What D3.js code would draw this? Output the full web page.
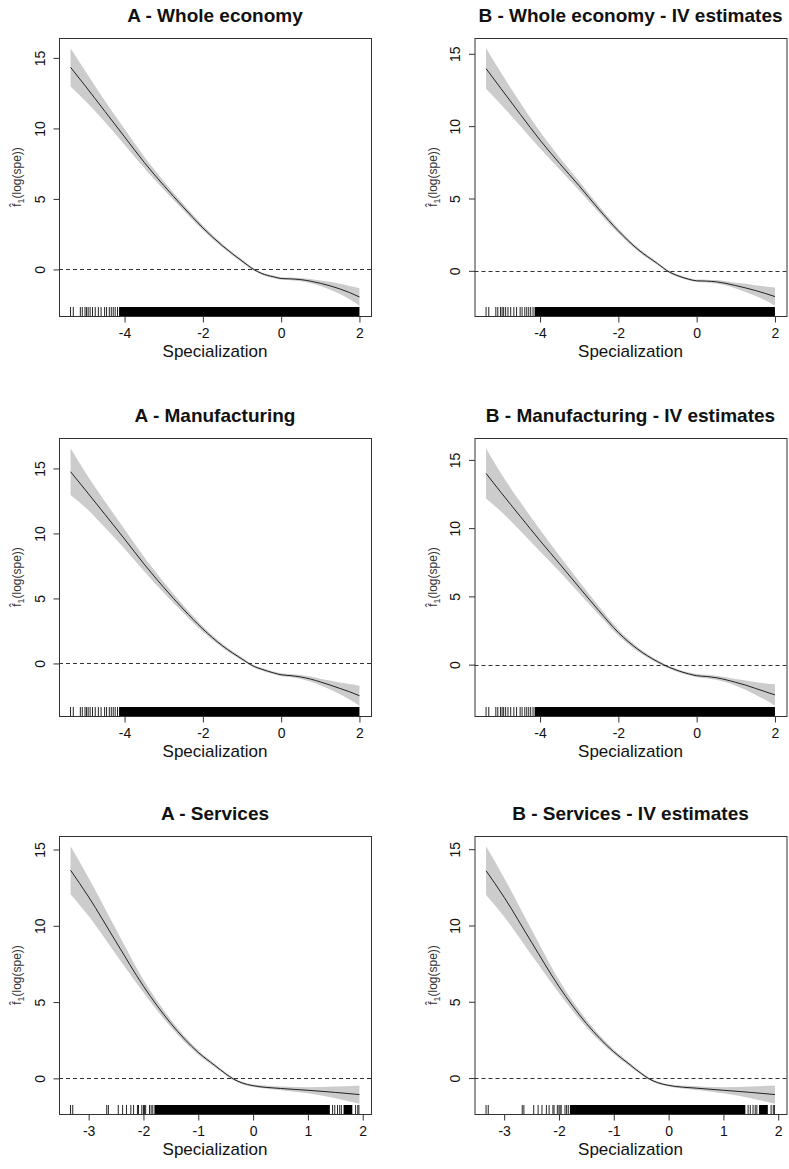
<!DOCTYPE html>
<html>
<head>
<meta charset="utf-8">
<script src="https://cdn.jsdelivr.net/npm/d3@7"></script>
<style>
  body { margin: 0; background: #fff; }
  svg text { font-family: "Liberation Sans", Arial, sans-serif; fill: #111; }
</style>
</head>
<body>
<div id="chart"></div>
<script>
// x grid of the smooth term (log specialization)
const xWhole = [-5.38, -5, -4.5, -4, -3.5, -3, -2.5, -2, -1.5, -1, -0.7, -0.5, -0.2, 0, 0.25, 0.5, 0.75, 1, 1.25, 1.5, 1.75, 2];
const xServ = [-3.33, -3, -2.5, -2, -1.5, -1, -0.7, -0.5, -0.36, -0.2, 0, 0.5, 1, 1.5, 1.94];

// fitted values and half-width of the confidence band
const fitWholeA = [14.33, 13.0, 11.2, 9.4, 7.6, 5.96, 4.42, 2.95, 1.68, 0.6, 0.0, -0.28, -0.52, -0.64, -0.67, -0.72, -0.83, -0.98, -1.16, -1.38, -1.64, -1.95];
const seWholeA  = [1.35, 1.05, 0.75, 0.55, 0.4, 0.3, 0.22, 0.17, 0.13, 0.1, 0.09, 0.09, 0.09, 0.09, 0.1, 0.12, 0.15, 0.2, 0.28, 0.36, 0.47, 0.62];
const fitWholeB = [13.98, 12.6, 10.8, 9.03, 7.42, 5.87, 4.26, 2.76, 1.48, 0.5, -0.08, -0.32, -0.58, -0.69, -0.71, -0.76, -0.87, -1.02, -1.18, -1.36, -1.56, -1.78];
const seWholeB  = [1.4, 1.1, 0.8, 0.58, 0.42, 0.32, 0.23, 0.17, 0.13, 0.1, 0.09, 0.09, 0.09, 0.09, 0.1, 0.12, 0.15, 0.2, 0.28, 0.37, 0.48, 0.63];
const fitManuA  = [14.75, 13.34, 11.46, 9.57, 7.64, 5.85, 4.18, 2.65, 1.36, 0.34, -0.22, -0.44, -0.72, -0.87, -0.94, -1.04, -1.2, -1.42, -1.66, -1.92, -2.18, -2.48];
const seManuA   = [1.8, 1.35, 1.0, 0.75, 0.55, 0.42, 0.3, 0.22, 0.16, 0.12, 0.1, 0.1, 0.1, 0.12, 0.13, 0.15, 0.19, 0.25, 0.34, 0.45, 0.6, 0.77];
const fitManuB  = [14.01, 12.62, 10.84, 9.08, 7.38, 5.66, 3.96, 2.35, 1.12, 0.22, -0.2, -0.42, -0.68, -0.81, -0.87, -0.96, -1.11, -1.3, -1.5, -1.74, -1.98, -2.22];
const seManuB   = [1.84, 1.4, 1.05, 0.8, 0.58, 0.43, 0.31, 0.22, 0.16, 0.12, 0.1, 0.1, 0.1, 0.12, 0.13, 0.15, 0.19, 0.25, 0.34, 0.46, 0.6, 0.79];
const fitServA  = [13.64, 11.89, 8.95, 6.04, 3.6, 1.7, 0.85, 0.3, -0.04, -0.3, -0.48, -0.66, -0.78, -0.92, -1.06];
const seServA   = [1.57, 1.25, 0.83, 0.42, 0.25, 0.15, 0.11, 0.09, 0.08, 0.08, 0.08, 0.12, 0.2, 0.38, 0.6];
const fitServB  = [13.59, 11.85, 8.9, 6.0, 3.58, 1.72, 0.86, 0.3, -0.04, -0.3, -0.48, -0.66, -0.8, -0.94, -1.08];
const seServB   = [1.6, 1.27, 0.84, 0.42, 0.25, 0.15, 0.11, 0.09, 0.08, 0.08, 0.08, 0.12, 0.2, 0.38, 0.6];

// rug: single observations and dense stretches
const rugWhole = [-5.38, -5.31, -5.13, -5.08, -5.01, -4.97, -4.93, -4.88, -4.82, -4.75, -4.67, -4.6, -4.51, -4.46, -4.39, -4.34, -4.29, -4.24, -4.18];
const denseWhole = [[-4.14, 2.0]];
const rugServ = [-3.33, -3.29, -2.67, -2.64, -2.46, -2.38, -2.31, -2.23, -2.18, -2.11, -2.09, -2.03, -2.0, -1.98, -1.96, -1.89, -1.86, -1.83, 1.45, 1.49, 1.54, 1.58, 1.61, 1.87, 1.91, 1.93];
const denseServ = [[-1.8, 1.4], [1.65, 1.81]];

// tick labels
const ticksWhole = [-4, -2, 0, 2];
const ticksServ = [-3, -2, -1, 0, 1, 2];
const ticksY = [0, 5, 10, 15];

const titles = ["A - Whole economy", "B - Whole economy - IV estimates",
                "A - Manufacturing", "B - Manufacturing - IV estimates",
                "A - Services", "B - Services - IV estimates"];

const panels = [
  {title: titles[0], col: 0, row: 0, x: xWhole, fit: fitWholeA, se: seWholeA, rug: rugWhole, dense: denseWhole, ticks: ticksWhole},
  {title: titles[1], col: 1, row: 0, x: xWhole, fit: fitWholeB, se: seWholeB, rug: rugWhole, dense: denseWhole, ticks: ticksWhole},
  {title: titles[2], col: 0, row: 1, x: xWhole, fit: fitManuA, se: seManuA, rug: rugWhole, dense: denseWhole, ticks: ticksWhole},
  {title: titles[3], col: 1, row: 1, x: xWhole, fit: fitManuB, se: seManuB, rug: rugWhole, dense: denseWhole, ticks: ticksWhole},
  {title: titles[4], col: 0, row: 2, x: xServ, fit: fitServA, se: seServA, rug: rugServ, dense: denseServ, ticks: ticksServ},
  {title: titles[5], col: 1, row: 2, x: xServ, fit: fitServB, se: seServB, rug: rugServ, dense: denseServ, ticks: ticksServ}
];

const width = 789, height = 1169;
const colLeft = [59, 474.5], rowTop = [38, 438, 836];
const boxW = 312, boxH = 278;

const svg = d3.select("#chart")
  .append("svg")
    .attr("width", width)
    .attr("height", height);

// R style 4% axis padding
function pad(ext) {
  const d = (ext[1] - ext[0]) * 0.04;
  return [ext[0] - d, ext[1] + d];
}

panels.forEach(p => {
  const g = svg.append("g")
    .attr("transform", `translate(${colLeft[p.col]},${rowTop[p.row]})`);

  const pts = p.x.map((v, i) => ({x: v, fit: p.fit[i], lo: p.fit[i] - p.se[i], hi: p.fit[i] + p.se[i]}));

  const x = d3.scaleLinear()
    .domain(pad(d3.extent(p.x.concat(p.rug))))
    .range([0, boxW]);
  const y = d3.scaleLinear()
    .domain(pad([d3.min(pts, d => d.lo), d3.max(pts, d => d.hi)]))
    .range([boxH, 0]);

  // confidence band
  g.append("path")
    .datum(pts)
    .attr("d", d3.area().x(d => x(d.x)).y0(d => y(d.lo)).y1(d => y(d.hi)).curve(d3.curveMonotoneX))
    .attr("fill", "#cccccc");

  // zero line
  g.append("line")
    .attr("x1", 0).attr("x2", boxW)
    .attr("y1", Math.round(y(0)) + 0.5).attr("y2", Math.round(y(0)) + 0.5)
    .attr("stroke", "#333")
    .attr("stroke-dasharray", "4,3");

  // fitted curve
  g.append("path")
    .datum(pts)
    .attr("d", d3.line().x(d => x(d.x)).y(d => y(d.fit)).curve(d3.curveMonotoneX))
    .attr("fill", "none")
    .attr("stroke", "#222")
    .attr("stroke-width", 1);

  // rug
  g.selectAll("rect.dense")
    .data(p.dense)
    .join("rect")
      .attr("class", "dense")
      .attr("x", d => x(d[0]))
      .attr("width", d => x(d[1]) - x(d[0]))
      .attr("y", boxH - 9)
      .attr("height", 9)
      .attr("fill", "#000");
  g.selectAll("line.rug")
    .data(p.rug)
    .join("line")
      .attr("class", "rug")
      .attr("x1", d => x(d)).attr("x2", d => x(d))
      .attr("y1", boxH - 9).attr("y2", boxH)
      .attr("stroke", "#222")
      .attr("stroke-width", 1);

  // box
  g.append("rect")
    .attr("x", 0.5).attr("y", 0.5)
    .attr("width", boxW).attr("height", boxH)
    .attr("fill", "none")
    .attr("stroke", "#333");

  // x axis
  const xa = g.append("g")
    .attr("transform", `translate(0,${boxH + 0.5})`)
    .call(d3.axisBottom(x).tickValues(p.ticks).tickSize(6).tickFormat(d3.format("d")));
  xa.select(".domain").remove();
  xa.selectAll("line").attr("stroke", "#333");
  xa.selectAll("text")
    .attr("y", 21).attr("dy", 0)
    .style("font-size", "14px")
    .text(d => String(d).replace("−", "-"));

  // y axis
  const ya = g.append("g")
    .attr("transform", "translate(0.5,0)")
    .call(d3.axisLeft(y).tickValues(ticksY).tickSize(6));
  ya.select(".domain").remove();
  ya.selectAll("line").attr("stroke", "#333");
  ya.selectAll("text")
    .attr("x", 0).attr("dy", 0)
    .attr("text-anchor", "middle")
    .attr("transform", "translate(-15,0) rotate(-90)")
    .style("font-size", "14px");

  // title
  g.append("text")
    .attr("x", boxW / 2)
    .attr("y", -16)
    .attr("text-anchor", "middle")
    .style("font-size", "19px")
    .style("font-weight", "bold")
    .text(p.title);

  // x label
  g.append("text")
    .attr("x", boxW / 2)
    .attr("y", boxH + 41)
    .attr("text-anchor", "middle")
    .style("font-size", "17px")
    .text("Specialization");

  // y label f^1(log(spe))
  const yl = g.append("text")
    .attr("transform", `translate(-38,${boxH / 2}) rotate(-90)`)
    .attr("text-anchor", "middle")
    .style("font-size", "12px")
    .style("fill", "#333");
  yl.append("tspan").text("f\u0302");
  yl.append("tspan").attr("dy", 3).style("font-size", "9px").text("1");
  yl.append("tspan").attr("dy", -3).text("(log(spe))");
});
</script>
</body>
</html>
